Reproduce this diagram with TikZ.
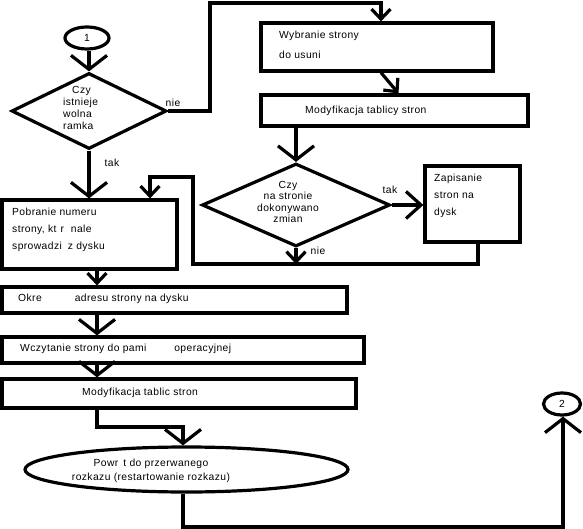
\documentclass[tikz,border=0pt]{standalone}
\usepackage{fontspec}
\setmainfont[LetterSpace=4]{Liberation Sans}
\usetikzlibrary{arrows.meta,shapes.geometric,calc}
\begin{document}
\begin{tikzpicture}[x=1pt,y=-1pt,
  every node/.style={font=\fontsize{10.3}{12}\selectfont,inner sep=0pt},
  lw/.style={line width=3.2pt},
  box/.style={draw,lw,rectangle},
  oval/.style={draw,lw,ellipse},
  dia/.style={draw,lw,diamond},
  txt/.style={anchor=west,align=left},
  bigarr/.style={lw,-{Straight Barb[length=14pt,width=36pt]}},
  medarr/.style={lw,-{Straight Barb[length=15pt,width=27pt]}},
  smallarr/.style={lw,-{Straight Barb[length=10pt,width=19pt]}}
]
\useasboundingbox (0,0) rectangle (583,529);

% shapes
\node[oval,minimum width=44pt,minimum height=22pt] (c1) at (87,38) {1};
\node[dia,minimum width=155pt,minimum height=76pt] (d1) at (89,111) {};
\node[txt,font=\fontsize{10.3}{12}\selectfont] (d1t) at (63,108) {\hspace*{9pt}Czy\\istnieje\\wolna\\ramka};

\node[box,minimum width=232pt,minimum height=48pt] (b1) at (377,47) {};
\node[txt,font=\fontsize{10.3}{20}\selectfont] (b1t) at (279,45) {Wybranie strony\\do usuni};

\node[box,minimum width=267pt,minimum height=31pt] (b2) at (394.5,110.5) {};
\node[txt] (b2t) at (305,111) {Modyfikacja tablicy stron};

\node[dia,minimum width=188pt,minimum height=83pt] (d2) at (296,205) {};
\node[align=center,font=\fontsize{10.3}{11.5}\selectfont] (d2t) at (288,202) {Czy\\na stronie\\dokonywano\\zmian};

\node[box,minimum width=95pt,minimum height=76pt] (b3) at (472.5,204) {};
\node[txt,font=\fontsize{10.3}{17}\selectfont] (b3t) at (434,196) {Zapisanie\\stron na\\dysk};

\node[box,minimum width=175pt,minimum height=69pt] (b4) at (89.5,234.5) {};
\node[txt,font=\fontsize{10.3}{17}\selectfont] (b4t) at (12,230) {Pobranie numeru\\strony, kt\hspace{4pt}r\hspace{7pt}nale\\sprowadzi\hspace{6pt}z dysku};

\node[box,minimum width=345pt,minimum height=26pt] (b5) at (174.5,300) {};
\node[txt] (b5t) at (18,299) {Okre\hspace{33pt}adresu strony na dysku};

\node[box,minimum width=362pt,minimum height=26pt] (b6) at (183,350) {};
\node[txt] (b6t) at (20,349) {Wczytanie strony do pami\hspace{28pt}operacyjnej};

\node[box,minimum width=354pt,minimum height=29pt] (b7) at (179,393.5) {};
\node[txt] (b7t) at (82,393) {Modyfikacja tablic stron};

\node[oval,minimum width=323pt,minimum height=45pt] (e1) at (186.5,469.5) {};
\node[align=center,font=\fontsize{10.3}{14}\selectfont] (e1t) at (151,471) {Powr\hspace{5pt}t do przerwanego\\rozkazu (restartowanie rozkazu)};

\node[oval,minimum width=37pt,minimum height=22pt] (c2) at (562,404) {2};

% labels
\node (l1) at (173,103) {nie};
\node (l2) at (112,163) {tak};
\node (l3) at (390,190) {tak};
\node (l4) at (318,251) {nie};

% junction coordinates
\coordinate (j1) at (210,3);
\coordinate (j3) at (193,264);
\coordinate (j4) at (150,177);
\coordinate (vx) at (97,0);
\coordinate (j5) at (183,427);
\coordinate (j6) at (563,527);

% connectors
\draw[bigarr] (c1.south -| d1.north) -- (d1.north);
\draw[smallarr] (d1.east) -| (j1) -| ([xshift=4pt]b1.north);
\draw[smallarr] ([xshift=4pt]b1.south) -- ([xshift=4pt]b2.north);
\draw[bigarr] (b2.south -| d2.north) -- (d2.north);
\draw[medarr] (d2.east) -- (d2.east -| b3.west);
\draw[smallarr] (d2.south) -- (d2.south |- j3);
\draw[smallarr] ([xshift=5.5pt]b3.south) |- (j3) |- (j4) -- (j4 |- b4.north);
\draw[bigarr] (d1.south) -- (d1.south |- b4.north);
\draw[smallarr] (b4.south -| vx) -- (b5.north -| vx);
\draw[bigarr] (b5.south -| vx) -- (b6.north -| vx);
\draw[bigarr] (b6.south -| vx) -- (b7.north -| vx);
\draw[bigarr] (b7.south -| vx) |- (j5) -- (j5 |- e1.north);
\draw[bigarr] (e1.south -| j5) |- (j6) -- (j6 |- c2.south);
\end{tikzpicture}
\end{document}
